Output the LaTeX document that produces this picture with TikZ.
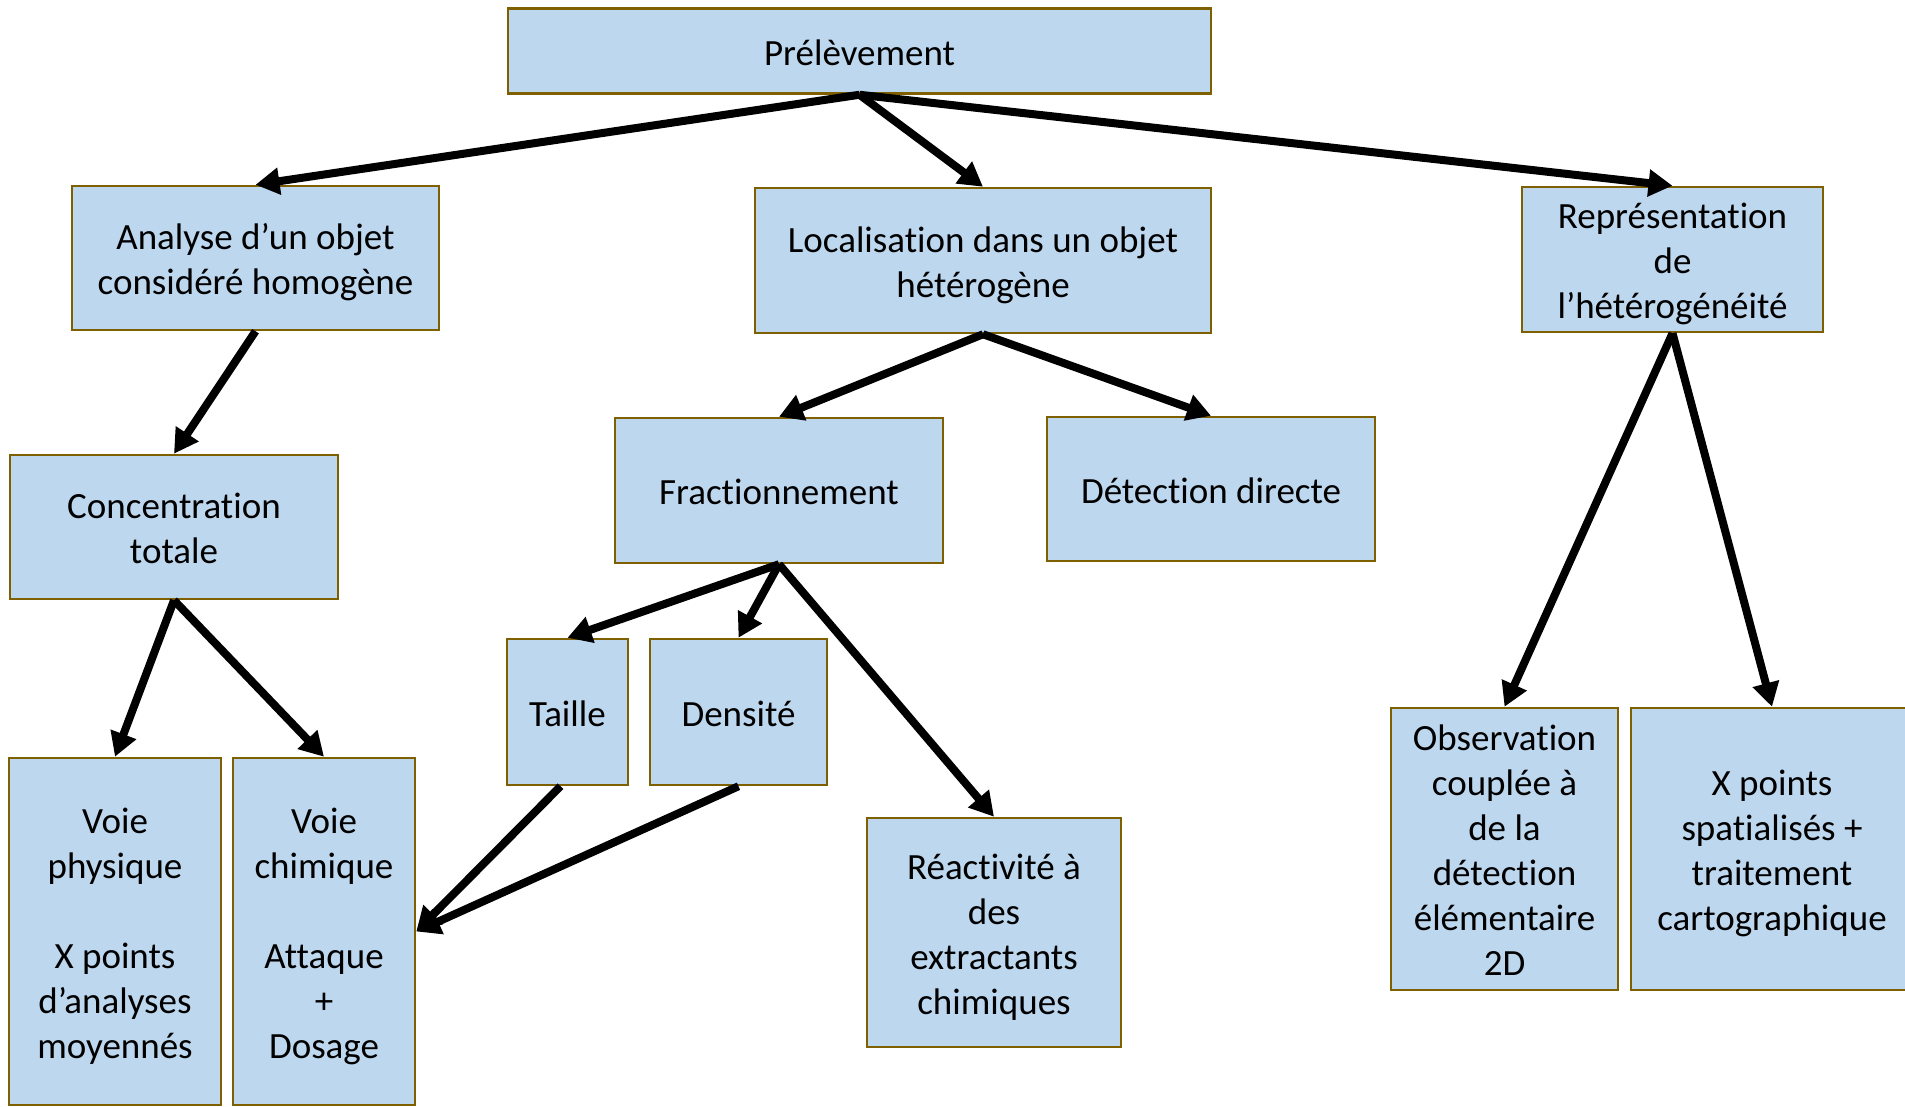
\documentclass[tikz,border=0pt]{standalone}
\usepackage{fontspec}
\setmainfont{Carlito}[Ligatures=NoCommon]
\usetikzlibrary{arrows.meta}
\definecolor{boxfill}{HTML}{BDD7EE}
\definecolor{boxedge}{HTML}{7F6000}
% fixed line ascent for the first line of a box
\newcommand\firstlinestrut{\rule{0pt}{36.5pt}}
\begin{document}
\begin{tikzpicture}[x=1pt,y=-1pt,
  box/.style={draw=boxedge, line width=2.5pt, fill=boxfill, inner sep=0pt,
    align=center, font=\fontsize{37}{45}\selectfont,
    execute at begin node={\firstlinestrut},
    execute at end node={\rule[-8pt]{0pt}{8pt}}},
  link/.style={line width=8pt, -{Triangle[length=24pt,width=26pt]}}]
\clip (0,0) rectangle (1905,1107);
\fill[white] (0,0) rectangle (1905,1107);

% first level
\node[box, minimum width=703pt, minimum height=85pt] (prel) at (859.5,51) {Prélèvement};

% second level
\node[box, minimum width=367pt, minimum height=144pt] (analyse) at (255.5,258)
  {\firstlinestrut Analyse d’un objet\\considéré homogène};
\node[box, minimum width=456pt, minimum height=145pt] (local) at (983,260.5)
  {\firstlinestrut Localisation dans un objet\\hétérogène};
\node[box, minimum width=301pt, minimum height=145pt] (repr) at (1672.5,259.5)
  {\firstlinestrut Représentation\\de\\l’hétérogénéité};

% third level
\node[box, minimum width=328pt, minimum height=144pt] (conc) at (174,527)
  {\firstlinestrut Concentration\\totale};
\node[box, minimum width=328pt, minimum height=145pt] (frac) at (779,490.5)
  {Fractionnement};
\node[box, minimum width=328pt, minimum height=144pt] (detect) at (1211,489)
  {Détection directe};

% fractionation criteria
\node[box, minimum width=121pt, minimum height=146pt] (taille) at (567.5,712) {Taille};
\node[box, minimum width=177pt, minimum height=146pt] (dens) at (738.5,712) {Densité};
\node[box, minimum width=254pt, minimum height=229pt] (react) at (994,932.5)
  {\firstlinestrut Réactivité à\\des\\extractants\\chimiques};

% total concentration routes
\node[box, minimum width=212pt, minimum height=347pt] (vphys) at (115,931.5)
  {\firstlinestrut Voie\\physique\\[45pt]X points\\d’analyses\\moyennés};
\node[box, minimum width=182pt, minimum height=347pt] (vchim) at (324,931.5)
  {\firstlinestrut Voie\\chimique\\[45pt]Attaque\\+\\Dosage};

% heterogeneity representation
\node[box, minimum width=227pt, minimum height=282pt] (obs) at (1504.5,849)
  {\firstlinestrut Observation\\couplée à\\de la\\détection\\élémentaire\\2D};
\node[box, minimum width=282pt, minimum height=282pt] (xpts) at (1772,849)
  {\firstlinestrut X points\\spatialisés +\\traitement\\cartographique};

% connectors
\draw[link] (prel.south) -- (analyse.north);
\draw[link] (prel.south) -- (local.north);
\draw[link] (prel.south) -- (repr.north);
\draw[link] (analyse.south) -- (conc.north);
\draw[link] (local.south) -- (frac.north);
\draw[link] (local.south) -- (detect.north);
\draw[link] (repr.south) -- (obs.north);
\draw[link] (repr.south) -- (xpts.north);
\draw[link] (conc.south) -- (vphys.north);
\draw[link] (conc.south) -- (vchim.north);
\draw[link] (frac.south) -- (taille.north);
\draw[link] (frac.south) -- (dens.north);
\draw[link] (frac.south) -- (react.north);
\draw[link] ([xshift=-7pt]taille.south) -- (vchim.east);
\draw[link] (dens.south) -- (vchim.east);
\end{tikzpicture}
\end{document}
